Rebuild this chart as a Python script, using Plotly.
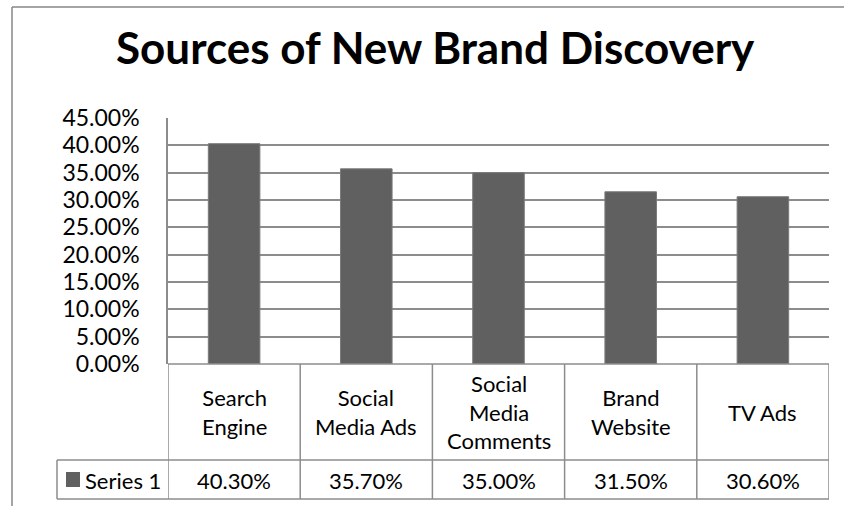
import plotly.graph_objects as go

title = "Sources of New Brand Discovery"
categories = ["Search<br>Engine", "Social<br>Media Ads", "Social<br>Media<br>Comments", "Brand<br>Website", "TV Ads"]
series_name = "Series 1"
values = [0.403, 0.357, 0.350, 0.315, 0.306]
value_labels = ["40.30%", "35.70%", "35.00%", "31.50%", "30.60%"]

W, H = 844, 506
L, R, T, B = 168, 829, 118, 364
pw, ph = R - L, B - T

def px_x(x):
    return (x - L) / pw

def px_y(y):
    return (B - y) / ph

FONT = "Lato, Open Sans, sans-serif"
GRID = "#8c8c8c"
BAR = "#606060"
n = len(categories)
xs = list(range(n))

fig = go.Figure()
fig.add_trace(go.Bar(x=xs, y=values, marker=dict(color=BAR, line=dict(color="#7a7a7a", width=1)),
                     width=0.39, showlegend=False, hoverinfo="skip"))

shapes = []
# outer chart frame (cropped)
shapes.append(dict(type="line", xref="paper", yref="paper", x0=px_x(12), x1=px_x(12), y0=px_y(7), y1=px_y(510),
                   line=dict(color="#868686", width=1.5)))
shapes.append(dict(type="line", xref="paper", yref="paper", x0=px_x(12), x1=px_x(850), y0=px_y(7), y1=px_y(7),
                   line=dict(color="#868686", width=1.5)))
# data table lines
for i in range(n + 1):
    shapes.append(dict(type="line", xref="x", yref="paper", x0=i - 0.5, x1=i - 0.5, y0=0, y1=px_y(499),
                       line=dict(color=GRID, width=1.5)))
shapes.append(dict(type="line", xref="x", yref="paper", x0=-0.5, x1=n - 0.5, y0=0, y1=0,
                   line=dict(color=GRID, width=1.5)))
for yy in (460, 499):
    shapes.append(dict(type="line", xref="paper", yref="paper", x0=px_x(57), x1=1, y0=px_y(yy), y1=px_y(yy),
                       line=dict(color=GRID, width=1.5)))
shapes.append(dict(type="line", xref="paper", yref="paper", x0=px_x(57), x1=px_x(57), y0=px_y(460), y1=px_y(499),
                   line=dict(color=GRID, width=1.5)))
# legend key
shapes.append(dict(type="rect", xref="paper", yref="paper", x0=px_x(66), x1=px_x(80), y0=px_y(472), y1=px_y(487),
                   fillcolor=BAR, line=dict(width=0)))

annotations = []
for i, c in enumerate(categories):
    annotations.append(dict(x=i, y=px_y(412), xref="x", yref="paper", text=c, showarrow=False,
                            xanchor="center", yanchor="middle", font=dict(family=FONT, size=22, color="#000"),
                            align="center"))
    annotations.append(dict(x=i, y=px_y(480), xref="x", yref="paper", text=value_labels[i], showarrow=False,
                            xanchor="center", yanchor="middle", font=dict(family=FONT, size=22, color="#000")))
annotations.append(dict(x=px_x(83), y=px_y(480), xref="paper", yref="paper", text=series_name, showarrow=False,
                        xanchor="left", yanchor="middle", font=dict(family=FONT, size=22, color="#000")))
annotations.append(dict(x=px_x(435), y=px_y(47), xref="paper", yref="paper", text="<b>" + title + "</b>",
                        showarrow=False, xanchor="center", yanchor="middle",
                        font=dict(family=FONT, size=44, color="#000")))

fig.update_layout(
    width=W, height=H, margin=dict(l=L, r=W - R, t=T, b=H - B, pad=0),
    paper_bgcolor="white", plot_bgcolor="white",
    shapes=shapes, annotations=annotations, showlegend=False,
    xaxis=dict(range=[-0.5, n - 0.5], showticklabels=False, showgrid=False, zeroline=False, fixedrange=True),
    yaxis=dict(range=[0, 0.45], dtick=0.05, tickformat=".2%", showgrid=True, gridcolor=GRID, gridwidth=1.5,
               zeroline=False, showline=True, linecolor=GRID, linewidth=1.5, ticks="",
               ticklabelstandoff=22, tickfont=dict(family=FONT, size=23, color="#000")),
)
fig.write_html("out.html")
